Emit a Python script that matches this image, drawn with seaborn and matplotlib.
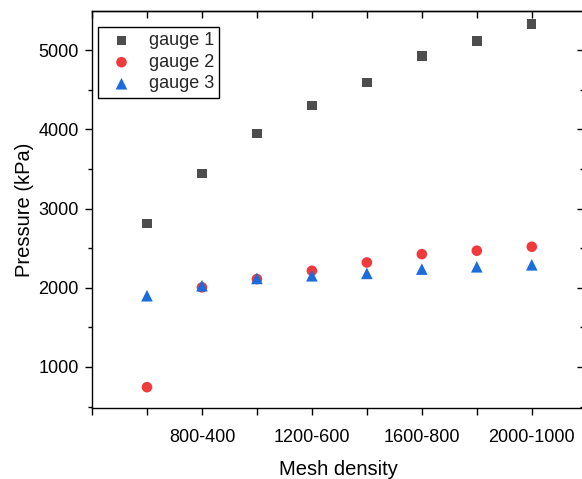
import matplotlib
matplotlib.use("Agg")
import matplotlib.pyplot as plt
import seaborn as sns
import pandas as pd
from matplotlib.ticker import MultipleLocator

# ---- data ----
categories = ["600-300", "800-400", "1000-500", "1200-600",
              "1400-700", "1600-800", "1800-900", "2000-1000"]
gauge1 = [2815, 3445, 3950, 4305, 4595, 4925, 5115, 5330]
gauge2 = [745, 2005, 2110, 2215, 2320, 2425, 2468, 2518]
gauge3 = [1900, 2026, 2118, 2152, 2182, 2236, 2265, 2290]
series_names = ["gauge 1", "gauge 2", "gauge 3"]
labeled_categories = ["800-400", "1200-600", "1600-800", "2000-1000"]

positions = list(range(1, len(categories) + 1))
rows = []
for name, vals in zip(series_names, [gauge1, gauge2, gauge3]):
    for p, c, v in zip(positions, categories, vals):
        rows.append({"pos": p, "category": c, "series": name, "pressure": v})
df = pd.DataFrame(rows)

sns.set_theme(style="ticks")
plt.rcParams["font.family"] = ["Liberation Sans", "DejaVu Sans"]

W, H = 582, 479
fig = plt.figure(figsize=(W / 100, H / 100), dpi=100)
left, right, top, bottom = 92, 584, 11, 408
ax = fig.add_axes([left / W, 1 - bottom / H, (right - left) / W, (bottom - top) / H])

palette = {"gauge 1": "#4d4d4d", "gauge 2": "#f03a3c", "gauge 3": "#1c6cdb"}
markers = {"gauge 1": "s", "gauge 2": "o", "gauge 3": "^"}
sizes = {"gauge 1": 46, "gauge 2": 58, "gauge 3": 70}

for name in series_names:
    sub = df[df["series"] == name]
    sns.scatterplot(data=sub, x="pos", y="pressure", ax=ax, color=palette[name],
                    marker=markers[name], s=sizes[name], linewidth=0,
                    edgecolor="none", label=name, zorder=3)

ax.set_xlim(0, 8.95)
ax.set_ylim(482, 5495)

# x ticks: every position, labels only for selected categories
tick_pos = [0] + positions
tick_lab = [""] + [c if c in labeled_categories else "" for c in categories]
ax.set_xticks(tick_pos)
ax.set_xticklabels(tick_lab)
ax.yaxis.set_major_locator(MultipleLocator(1000))
ax.yaxis.set_minor_locator(MultipleLocator(500))

for sp in ax.spines.values():
    sp.set_linewidth(1.0)
    sp.set_color("black")

ax.tick_params(axis="x", which="major", direction="out", length=5, width=1.0,
               labelsize=13, pad=10, colors="black")
ax.tick_params(axis="y", which="major", direction="out", length=5, width=1.0,
               labelsize=13, pad=4.5, colors="black")
ax.tick_params(axis="y", which="minor", direction="out", length=3, width=1.0,
               colors="black")

# mirrored inward ticks on top/right
secx = ax.secondary_xaxis("top")
secx.set_xticks(tick_pos)
secx.set_xticklabels([])
secx.tick_params(direction="in", length=5, width=1.0, colors="black")
secx.spines["top"].set_linewidth(1.0)
secy = ax.secondary_yaxis("right")
secy.yaxis.set_major_locator(MultipleLocator(1000))
secy.yaxis.set_minor_locator(MultipleLocator(500))
secy.set_yticklabels([])
secy.tick_params(which="major", direction="in", length=5, width=1.0, colors="black")
secy.tick_params(which="minor", direction="in", length=3, width=1.0, colors="black")

ax.set_xlabel("Mesh density", fontsize=14.5, labelpad=10, color="black")
ax.set_ylabel("Pressure (kPa)", fontsize=14.5, labelpad=3, color="black")

leg = ax.legend(loc="upper left", bbox_to_anchor=(6 / 492, 1 - 16 / 397),
                borderaxespad=0, fontsize=13, frameon=True, fancybox=False,
                edgecolor="black", framealpha=1, labelspacing=0.25,
                handletextpad=0.5, borderpad=0.3, handlelength=2.0)
leg.get_frame().set_linewidth(1.0)

fig.savefig("out.png", dpi=100)
